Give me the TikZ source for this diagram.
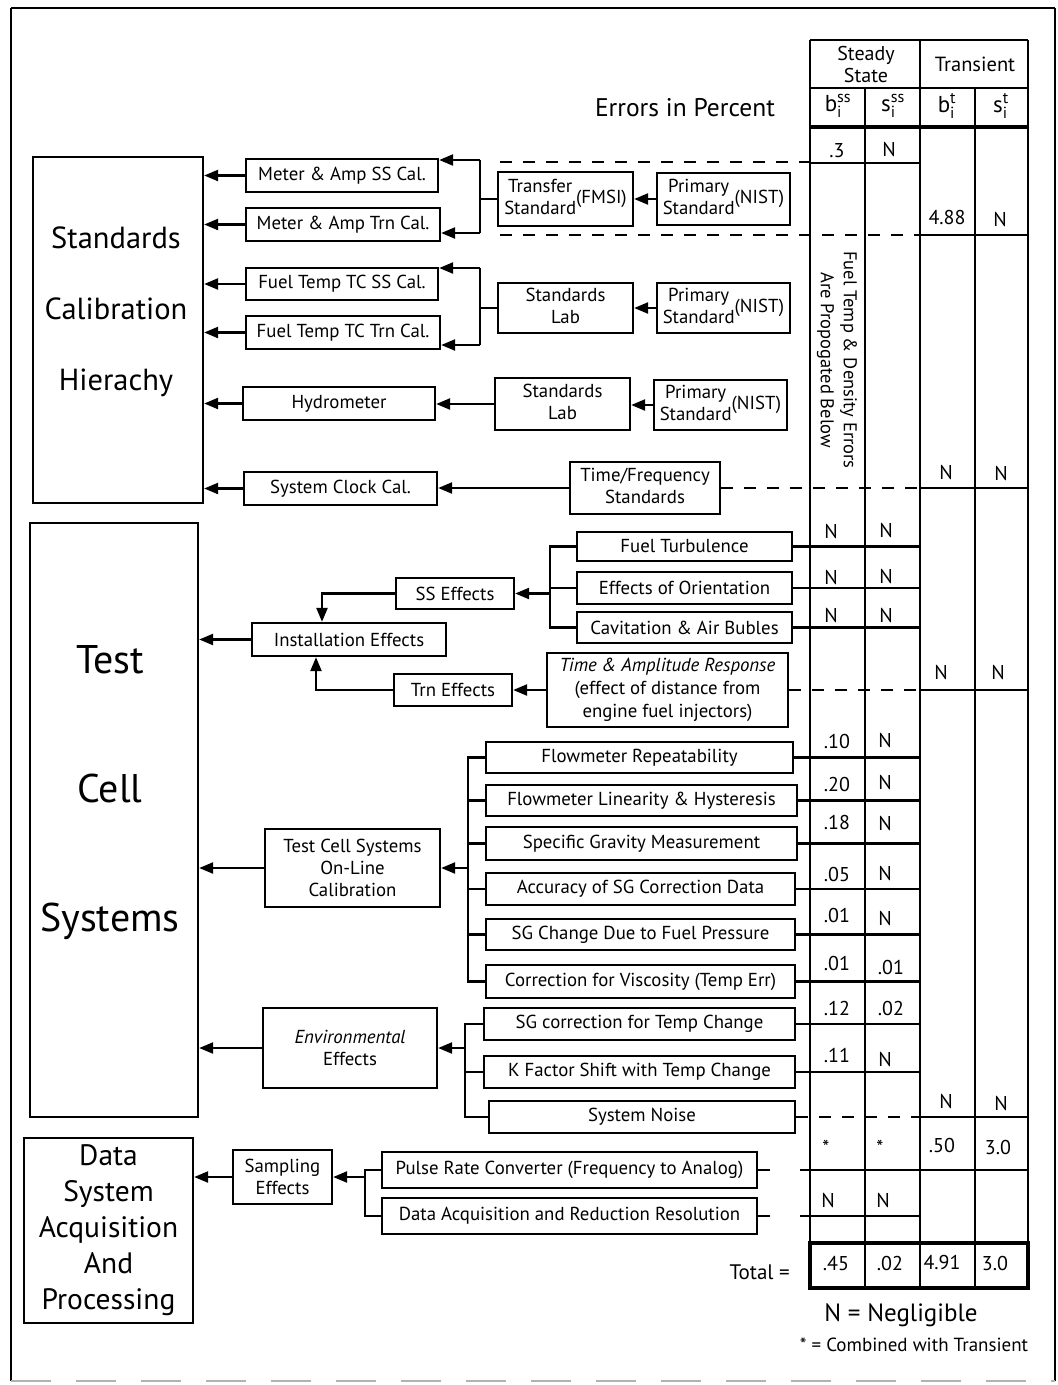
\documentclass[tikz,border=0pt]{standalone}
\usepackage{amsmath}
\usepackage{fontspec}
\setmainfont{PT Sans}
\usetikzlibrary{arrows.meta,calc}
\tikzset{
 box/.style={draw, line width=2.3pt, inner sep=1pt, align=center, font=\fontsize{18.8}{22}\selectfont},
 ln/.style={line width=2.3pt},
 arr/.style={line width=2.3pt, -{Triangle[length=14pt,width=11pt]}},
 dsh/.style={line width=2.3pt, dash pattern=on 12pt off 11pt},
 val/.style={font=\fontsize{20}{22}\selectfont, inner sep=0pt},
 big/.style={align=center, inner sep=0pt},
}
\newcommand\mkbox[7][]{\node[box,minimum width={#5-#3},minimum height={#6-#4},#1] (#2) at ({(#3+#5)/2},{(#4+#6)/2}) {#7};}
\newcommand\twol[2]{\begin{tabular}[c]{@{}c@{}}#1\\[0pt]#2\end{tabular}}
\begin{document}
\begin{tikzpicture}[x=1pt,y=-1pt]
\useasboundingbox (0,0) rectangle (1058,1385);
% outer frame
\draw[line width=2.8pt] (11,8) -- (1055,8);
\draw[line width=2.3pt] (11,8) -- (11,1381);
\draw[line width=2.3pt] (1055,8) -- (1055,1381);
\draw[line width=1.5pt, gray!60, dash pattern=on 40pt off 25pt] (11,1381) -- (1055,1381);

% big boxes
\mkbox{scal}{33}{157}{203}{503}{}
\node[big, font=\fontsize{30.5}{71}\selectfont] (scalt) at (116,312) {Standards\\Calibration\\Hierachy};
\mkbox{tcs}{30}{523}{198}{1117}{}
\node[big, font=\fontsize{40}{129}\selectfont] (tcst) at (110,793) {Test\\Cell\\Systems};
\mkbox[font=\fontsize{29.5}{36}\selectfont]{das}{24}{1138}{193}{1323}{Data\\System\\Acquisition\\And\\Processing}

% standards group
\mkbox{mss}{246}{159}{438}{192}{Meter \& Amp SS Cal.}
\mkbox{mtr}{246}{208}{440}{241}{Meter \& Amp Trn Cal.}
\mkbox{trf}{498}{172}{633}{226}{\twol{Transfer}{Standard}(FMSI)}
\mkbox{pra}{657}{173}{790}{225}{\twol{Primary}{Standard}(NIST)}
\mkbox{fss}{246}{268}{438}{300}{Fuel Temp TC SS Cal.}
\mkbox{ftr}{246}{316}{440}{349}{Fuel Temp TC Trn Cal.}
\mkbox{sla}{498}{283}{633}{333}{\twol{Standards}{Lab}}
\mkbox{prb}{657}{283}{790}{333}{\twol{Primary}{Standard}(NIST)}
\mkbox{hyd}{243}{387}{435}{420}{Hydrometer}
\mkbox{slb}{495}{378}{630}{430}{\twol{Standards}{Lab}}
\mkbox{prc3}{654}{380}{787}{430}{\twol{Primary}{Standard}(NIST)}
\mkbox{clk}{244}{472}{437}{505}{System Clock Cal.}
\mkbox{tfs}{570}{462}{720}{514}{\twol{Time/Frequency}{Standards}}

\foreach \b in {mss,mtr,fss,ftr,hyd,clk} \draw[arr] (\b.west) -- (\b.west -| scal.east);
\coordinate (k1t) at (480,160); \coordinate (k1b) at (480,233);
\draw[ln] (k1t) -- (k1b);
\draw[ln] (trf.west) -- (trf.west -| k1t);
\draw[arr] (k1t) -- (k1t -| mss.east);
\draw[arr] (k1b) -- (k1b -| mtr.east);
\draw[arr] (pra.west) -- (trf.east);
\coordinate (k2t) at (480,268); \coordinate (k2b) at (480,345);
\draw[ln] (k2t) -- (k2b);
\draw[ln] (sla.west) -- (sla.west -| k2t);
\draw[arr] (k2t) -- (k2t -| fss.east);
\draw[arr] (k2b) -- (k2b -| ftr.east);
\draw[arr] (prb.west) -- (sla.east);
\draw[arr] (slb.west) -- (slb.west -| hyd.east);
\draw[arr] (prc3.west) -- (prc3.west -| slb.east);
\draw[arr] (tfs.west) -- (tfs.west -| clk.east);

% table reference coordinates
\coordinate (tl) at (800,0);
\coordinate (ssr) at (920,0);
\coordinate (tr) at (1028,0);

% dashed lines upper
\coordinate (d1a) at (500,162); \coordinate (d1b) at (810,162);
\draw[dsh] (d1a) -- (d1b);
\coordinate (d2a) at (500,235); \coordinate (d2b) at (920,235);
\draw[dsh] (d2a) -- (d2b);
\draw[ln] (d2b) -- (d2b -| tr);
\draw[dsh] (tfs.east) -- (tfs.east -| ssr);
\draw[ln] (tfs.east -| ssr) -- (tfs.east -| tr);

% test cell: installation
\mkbox{sse}{396}{578}{514}{609}{SS Effects}
\mkbox{ins}{252}{623}{446}{656}{Installation Effects}
\mkbox{tre}{394}{674}{512}{706}{Trn Effects}
\mkbox{ftb}{577}{532}{792}{561}{Fuel Turbulence}
\mkbox{eor}{577}{572}{792}{604}{Effects of Orientation}
\mkbox{cav}{577}{612}{792}{643}{Cavitation \& Air Bubles}
\mkbox[font=\fontsize{18.8}{23}\selectfont]{tar}{547}{653}{788}{727}{\textit{Time \& Amplitude Response}\\(effect of distance from\\engine fuel injectors)}
\draw[arr] (ins.west) -- (ins.west -| tcs.east);
\coordinate (c1) at (322,593); \coordinate (c2) at (316,690);
\draw[arr] (sse.west) -- (sse.west -| c1) -- (c1 |- ins.north);
\draw[arr] (tre.west) -- (tre.west -| c2) -- (c2 |- ins.south);
\coordinate (k3) at (550,0);
\draw[ln] (ftb.west) -- (ftb.west -| k3) -- (cav.west -| k3) -- (cav.west);
\draw[ln] (eor.west) -- (eor.west -| k3);
\draw[arr] (sse.east -| k3) -- (sse.east);
\draw[arr] (tar.west) -- (tar.west -| tre.east);
\foreach \b in {ftb,eor,cav} \draw[ln] (\b.east) -- (\b.east -| ssr);
\draw[dsh] (tar.east) -- (tar.east -| ssr);
\draw[ln] (tar.east -| ssr) -- (tar.east -| tr);

% on-line calibration
\mkbox[font=\fontsize{18.8}{22}\selectfont]{tco}{265}{829}{440}{907}{Test Cell Systems\\On-Line\\Calibration}
\mkbox{fr}{486}{742}{793}{773}{Flowmeter Repeatability}
\mkbox{fl}{486}{785}{797}{816}{Flowmeter Linearity \& Hysteresis}
\mkbox{sg}{486}{827}{797}{860}{Specific Gravity Measurement}
\mkbox{ac}{486}{873}{795}{905}{Accuracy of SG Correction Data}
\mkbox{sgc}{486}{919}{795}{950}{SG Change Due to Fuel Pressure}
\mkbox{cv}{486}{965}{795}{998}{Correction for Viscosity (Temp Err)}
\coordinate (k4) at (468,0);
\draw[ln] (fr.west) -- (fr.west -| k4) -- (cv.west -| k4) -- (cv.west);
\foreach \b in {fl,sg,ac,sgc} \draw[ln] (\b.west) -- (\b.west -| k4);
\draw[arr] (tco.east -| k4) -- (tco.east);
\draw[arr] (tco.west) -- (tco.west -| tcs.east);
\foreach \b in {fr,fl,sg,ac,sgc,cv} \draw[ln] (\b.east) -- (\b.east -| ssr);

% environmental
\mkbox[font=\fontsize{18.8}{22}\selectfont]{env}{263}{1008}{437}{1088}{\textit{Environmental}\\Effects}
\mkbox{sgt}{484}{1008}{795}{1040}{SG correction for Temp Change}
\mkbox{kf}{484}{1056}{795}{1088}{K Factor Shift with Temp Change}
\mkbox{sn}{489}{1101}{795}{1133}{System Noise}
\coordinate (k5) at (465,0);
\draw[ln] (sgt.west) -- (sgt.west -| k5) -- (sn.west -| k5) -- (sn.west);
\draw[ln] (kf.west) -- (kf.west -| k5);
\draw[arr] (env.east -| k5) -- (env.east);
\draw[arr] (env.west) -- (env.west -| tcs.east);
\foreach \b in {sgt,kf} \draw[ln] (\b.east) -- (\b.east -| ssr);
\draw[dsh] (sn.east) -- (sn.east -| ssr);
\draw[ln] (sn.east -| ssr) -- (sn.east -| tr);

% data section
\mkbox[font=\fontsize{18.8}{22}\selectfont]{sam}{233}{1150}{332}{1204}{Sampling\\Effects}
\mkbox{prc}{382}{1152}{757}{1188}{Pulse Rate Converter (Frequency to Analog)}
\mkbox{dar}{382}{1198}{757}{1234}{Data Acquisition and Reduction Resolution}
\coordinate (k6) at (365,0);
\draw[ln] (prc.west) -- (prc.west -| k6) -- (dar.west -| k6) -- (dar.west);
\draw[arr] (sam.east -| k6) -- (sam.east);
\draw[arr] (sam.west) -- (sam.west -| das.east);
\draw[ln] (prc.east) -- ++(12,0);
\draw[ln] (prc.east -| tl) -- (prc.east -| tr);
\draw[ln] (dar.east) -- ++(12,0);
\draw[ln] (dar.east -| tl) -- (dar.east -| ssr);

% table frame
\foreach \x in {810,920,1028} \draw[ln] (\x,40) -- (\x,1288);
\foreach \x in {865,975} \draw[ln] (\x,88) -- (\x,1288);
\draw[ln] (810,40) -- (1028,40);
\draw[ln] (810,88) -- (1028,88);
\draw[line width=3.2pt] (810,127) -- (1028,127);
\draw[ln] (810,163) -- (920,163);
\draw[line width=3.2pt] (810,1243) rectangle (1028,1288);

% header
\node[font=\fontsize{25.5}{28}\selectfont] (eip) at (685,108) {Errors in Percent};
\node[align=center, font=\fontsize{20}{22}\selectfont] (hss) at (866,64) {Steady\\State};
\node[font=\fontsize{20.5}{22}\selectfont] (htr) at (975,64) {Transient};
\node[font=\fontsize{23}{26}\selectfont] (h1) at (838,106) {$\text{b}^{\text{ss}}_{\text{i}}$};
\node[font=\fontsize{23}{26}\selectfont] (h2) at (893,106) {$\text{s}^{\text{ss}}_{\text{i}}$};
\node[font=\fontsize{23}{26}\selectfont] (h3) at (947,106) {$\text{b}^{\text{t}}_{\text{i}}$};
\node[font=\fontsize{23}{26}\selectfont] (h4) at (1001,106) {$\text{s}^{\text{t}}_{\text{i}}$};

\node[rotate=-90, align=center, font=\fontsize{18.5}{23}\selectfont] (rot) at (837,360) {Fuel Temp \& Density Errors\\Are Propogated Below};

% values
\node[val] (v1) at (837,151) {.3};
\node[val] (v2) at (889,149) {N};
\node[val] (v3) at (947,217) {4.88};
\node[val] (v4) at (1000,219) {N};
\node[val] (v5) at (946,472) {N};
\node[val] (v6) at (1001,473) {N};
\node[val] (v7) at (831,531) {N};
\node[val] (v8) at (886,530) {N};
\node[val] (v9) at (831,577) {N};
\node[val] (v10) at (886,576) {N};
\node[val] (v11) at (831,615) {N};
\node[val] (v12) at (886,615) {N};
\node[val] (v13) at (941,672) {N};
\node[val] (v14) at (998,672) {N};
\node[val] (v15) at (837,741) {.10};
\node[val] (v16) at (885,740) {N};
\node[val] (v17) at (837,784) {.20};
\node[val] (v18) at (885,782) {N};
\node[val] (v19) at (837,822) {.18};
\node[val] (v20) at (885,823) {N};
\node[val] (v21) at (837,874) {.05};
\node[val] (v22) at (885,873) {N};
\node[val] (v23) at (837,915) {.01};
\node[val] (v24) at (885,918) {N};
\node[val] (v25) at (837,963) {.01};
\node[val] (v26) at (891,967) {.01};
\node[val] (v27) at (837,1008) {.12};
\node[val] (v28) at (891,1008) {.02};
\node[val] (v29) at (837,1055) {.11};
\node[val] (v30) at (885,1059) {N};
\node[val] (v31) at (946,1101) {N};
\node[val] (v32) at (1001,1103) {N};
\node[val] (v33) at (826,1147) {*};
\node[val] (v34) at (880,1147) {*};
\node[val] (v35) at (942,1145) {.50};
\node[val] (v36) at (998,1147) {3.0};
\node[val] (v37) at (828,1200) {N};
\node[val] (v38) at (883,1200) {N};
\node[val] (v39) at (836,1263) {.45};
\node[val] (v40) at (890,1263) {.02};
\node[val] (v41) at (942,1262) {4.91};
\node[val] (v42) at (995,1263) {3.0};
\node[val, anchor=east, font=\fontsize{21}{23}\selectfont] (tot) at (790,1272) {Total =};

% legend
\node[font=\fontsize{25}{27}\selectfont] (lg1) at (901,1315) {N = Negligible};
\node[font=\fontsize{19}{21}\selectfont] (lg2) at (914,1345) {* = Combined with Transient};
\end{tikzpicture}
\end{document}
